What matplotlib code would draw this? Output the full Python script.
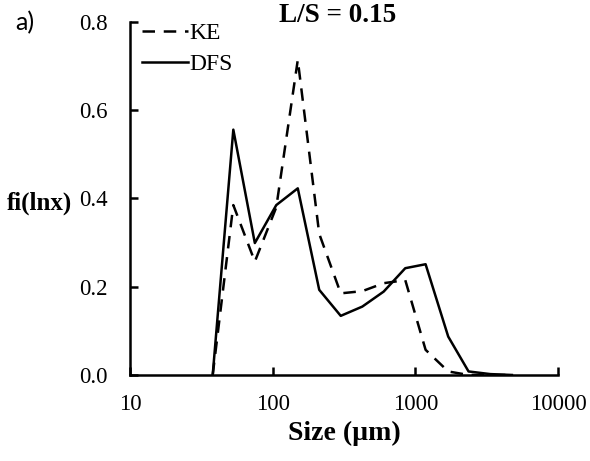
import matplotlib
matplotlib.use("Agg")
from matplotlib import pyplot as plt

sizes = [38, 53, 75, 106, 150, 212, 300, 425, 600, 850, 1180, 1700, 2360, 3350, 4750]
ke = [0.0, 0.385, 0.257, 0.38, 0.714, 0.32, 0.185, 0.19, 0.208, 0.215, 0.057, 0.008, 0.0, 0.0, 0.0]
dfs = [0.0, 0.556, 0.299, 0.385, 0.423, 0.193, 0.134, 0.155, 0.189, 0.242, 0.251, 0.087, 0.008, 0.002, 0.0]

x_ticks = [10, 100, 1000, 10000]
x_labels = ["10", "100", "1000", "10000"]
y_ticks = [0.0, 0.2, 0.4, 0.6, 0.8]

plt.rcParams['font.family'] = ['Liberation Serif', 'DejaVu Serif']

fig = plt.figure(figsize=(5.9, 4.61), dpi=100)
ax = fig.add_axes([0.2203, 0.1866, 0.7255, 0.7657])

ax.plot(sizes, ke, color='black', lw=1.8, dashes=(5, 3.5), label='KE')
ax.plot(sizes, dfs, color='black', lw=1.8, label='DFS')

ax.set_xscale('log')
ax.set_xlim(10, 10000)
ax.set_ylim(0, 0.8)
ax.set_xticks(x_ticks)
ax.set_xticklabels(x_labels)
ax.minorticks_off()
ax.set_yticks(y_ticks)
ax.set_yticklabels(["%.1f" % v for v in y_ticks])
ax.tick_params(direction='in', length=6, width=1.8, labelsize=16.5)
ax.tick_params(axis='x', pad=14)
ax.tick_params(axis='y', pad=16)

for side in ['top', 'right']:
    ax.spines[side].set_visible(False)
for side in ['left', 'bottom']:
    ax.spines[side].set_linewidth(1.8)

ax.set_xlabel("Size (\u00b5m)", fontsize=20, fontweight='bold', labelpad=4)
fig.text(0.012, 0.56, "fi(lnx)", fontsize=18, fontweight='bold', va='center', ha='left')
ax.set_title("L/S = 0.15", fontsize=19.5, fontweight='bold', x=0.484, y=0.975)
fig.text(0.025, 0.95, "a)", fontsize=18, family=['Lato', 'DejaVu Sans'], va='center', ha='left')

ax.legend(loc='upper left', bbox_to_anchor=(0.028, 0.998), frameon=False, fontsize=17,
          handlelength=1.95, handletextpad=0.05, labelspacing=0.4,
          borderpad=0.0, borderaxespad=0.0)

fig.savefig("out.png", dpi=100)
